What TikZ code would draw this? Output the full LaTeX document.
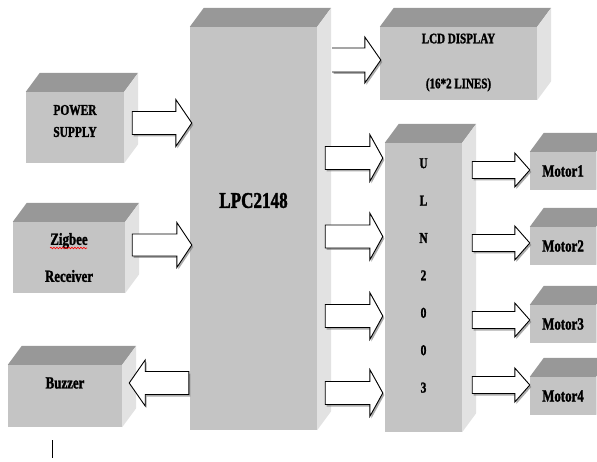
\documentclass[tikz,border=0pt]{standalone}
\usepackage{fontspec}
\setmainfont{Liberation Serif}[FakeStretch=0.76, BoldFeatures={FakeBold=1.6}]
\usepackage{tikz}
\usetikzlibrary{calc, shadows, decorations.pathmorphing}

\definecolor{frontgray}{RGB}{196,196,196}
\definecolor{topgray}{RGB}{152,152,152}
\definecolor{sidegray}{RGB}{226,226,226}

\tikzset{
  blk/.style={fill=frontgray, inner sep=0pt},
  lbl/.style 2 args={font=\bfseries\fontsize{#1}{#2}\selectfont, align=center, inner sep=0pt},
  flow/.style={draw=black, fill=white, line width=0.9pt, line join=miter,
    drop shadow={shadow xshift=1.5pt, shadow yshift=-2pt, fill=black!55, opacity=.6}}
}

% top and side face of a block
\newcommand{\boxfaces}[1]{%
  \fill[topgray] (#1.north west) -- ++(14,-19) -- ([shift={(14,-19)}]#1.north east) -- (#1.north east) -- cycle;
  \fill[sidegray] (#1.north east) -- ++(14,-19) -- ([shift={(14,-19)}]#1.south east) -- (#1.south east) -- cycle;}

% block arrow: [closing] {from} {tip} {y} {shaft half} {head half} {head length}
\newcommand{\barrow}[7][-- cycle]{%
  \draw[flow] let \p1=(#2), \p2=(#3), \p3=(0,#4) in
    (\x1,{\y3+#5pt}) -- ({\x2-(#7)*1pt},{\y3+#5pt}) -- ({\x2-(#7)*1pt},{\y3+#6pt})
    -- (\x2,\y3) -- ({\x2-(#7)*1pt},{\y3-#6pt}) -- ({\x2-(#7)*1pt},{\y3-#5pt})
    -- (\x1,{\y3-#5pt}) #1;}

\begin{document}
\begin{tikzpicture}[x=1pt, y=-1pt]
  \useasboundingbox (0,0) rectangle (597,462);
  \clip (0,0) rectangle (597,462);

  % blocks
  \node[blk, minimum width=98pt, minimum height=71pt] (ps) at (75,127.5) {};
  \node[blk, minimum width=112pt, minimum height=71pt] (zig) at (69,257.5) {};
  \node[blk, minimum width=114pt, minimum height=62pt] (buz) at (65,396) {};
  \node[blk, minimum width=127pt, minimum height=403pt] (lpc) at (253.5,228.5) {};
  \node[blk, minimum width=157pt, minimum height=73pt] (lcd) at (458.5,63.5) {};
  \node[blk, minimum width=77pt, minimum height=289pt] (uln) at (423.5,287.5) {};
  \foreach \m/\yy in {m1/171, m2/246, m3/324, m4/396}
    \node[blk, minimum width=66pt, minimum height=38pt] (\m) at (563,\yy) {};

  \foreach \b in {ps, zig, buz, lpc, lcd, uln, m1, m2, m3, m4}
    {\boxfaces{\b}}

  % texts
  \node[lbl={15}{22}] (pstext) at ([yshift=6.5pt]ps.center) {POWER\\SUPPLY};
  \node[lbl={17}{37}] (zigtext) at (zig.center) {Zigbee\\Receiver};
  \node[lbl={17}{20}] (buztext) at ([yshift=13pt]buz.center) {Buzzer};
  \node[lbl={22.5}{26}] (lpctext) at ([yshift=28pt]lpc.center) {LPC2148};
  \node[lbl={14.5}{45}] (lcdtext) at ([yshift=1pt]lcd.center) {LCD DISPLAY\\(16*2 LINES)};
  \node[lbl={15}{37.4}] (ulntext) at ([yshift=12pt]uln.center) {U\\L\\N\\2\\0\\0\\3};
  \foreach \m/\t in {m1/Motor1, m2/Motor2, m3/Motor3, m4/Motor4}
    \node[lbl={17}{20}] (\m text) at (\m.center) {\t};

  \draw[red, line width=0.6pt, decorate, decoration={snake, amplitude=0.8pt, segment length=3pt}]
    (50,248) -- (87,248);

  % arrows
  \barrow{[xshift=8pt]ps.east}{[xshift=2pt]lpc.west}{123}{11.5}{23.5}{16}
  \barrow{[xshift=7pt]zig.east}{[xshift=2pt]lpc.west}{245}{11}{22.5}{15}
  \barrow{[xshift=-1pt]lpc.west}{[xshift=7pt]buz.east}{383}{11.5}{23}{-16}
  \barrow[]{[xshift=15pt]lpc.east}{[xshift=1pt]lcd.west}{60}{12}{23}{16}
  \foreach \yy in {158, 236.5, 316, 393}
    {\barrow{[xshift=8pt]lpc.east}{[xshift=-2pt]uln.west}{\yy}{11.5}{23.5}{13}}
  \foreach \m/\yy in {m1/170, m2/243, m3/320, m4/385}
    {\barrow{[xshift=10pt]uln.east}{\m.west}{\yy}{8.5}{17}{15}}

  \draw[line width=1pt] (52,440) -- (52,458);
\end{tikzpicture}
\end{document}
